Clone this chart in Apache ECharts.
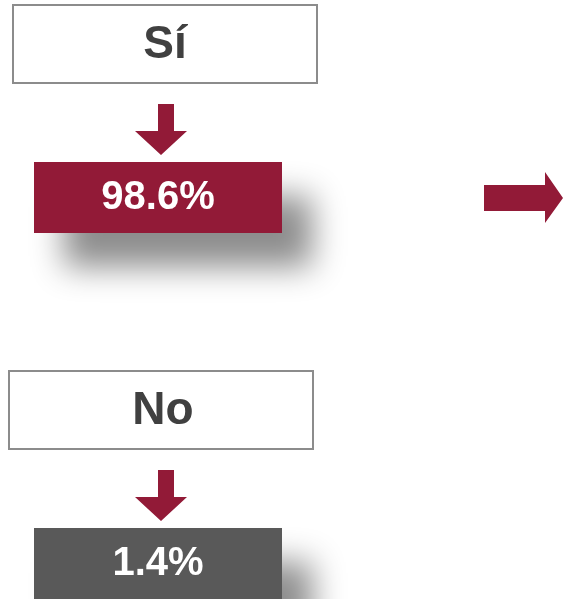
<!DOCTYPE html>
<html>
<head>
  <meta charset="utf-8">
  <script src="https://cdn.jsdelivr.net/npm/echarts@6.0.0/dist/echarts.min.js"></script>
  <style>
    body { margin: 0; padding: 0; background: #fff; }
    #main { width: 563px; height: 599px; }
  </style>
</head>
<body>
<div id="main"></div>
<script>
  // answers and their shares (%)
  var answers = ['Sí', 'No'];
  var shares = [98.6, 1.4];
  var boxColors = ['#921a37', '#595959'];

  var RED = '#921a37';
  var chart = echarts.init(document.getElementById('main'), null, { renderer: 'canvas' });

  var rowTop = [5, 371];
  var elements = [];

  answers.forEach(function (name, i) {
    var y0 = rowTop[i];
    var xShift = i === 0 ? 0 : -4;
    // label box
    elements.push({
      type: 'rect',
      shape: { x: 13 + xShift, y: y0, width: 304, height: 78 },
      style: { fill: '#fff', stroke: '#8c8c8c', lineWidth: 2 }
    });
    elements.push({
      type: 'text',
      x: 165 + xShift / 2, y: y0 + 40,
      style: {
        text: name, fill: '#404040', font: 'bold 46px "Liberation Sans", Arial, sans-serif',
        align: 'center', verticalAlign: 'middle'
      }
    });
    // down arrow
    var ay = y0 + 99;
    elements.push({
      type: 'polygon',
      shape: {
        points: [[158, ay], [174, ay], [174, ay + 27], [187, ay + 27], [161, ay + 51],
                 [135, ay + 27], [158, ay + 27]]
      },
      style: { fill: RED }
    });
    // value box with shadow
    var by = y0 + 157;
    elements.push({
      type: 'rect',
      shape: { x: 34, y: by, width: 248, height: 71 },
      style: {
        fill: boxColors[i],
        shadowBlur: 32, shadowOffsetX: 30, shadowOffsetY: 34,
        shadowColor: 'rgba(0,0,0,0.45)'
      }
    });
    elements.push({
      type: 'text',
      x: 158, y: by + 36,
      style: {
        text: shares[i].toFixed(1) + '%', fill: '#fff',
        font: 'bold 40px "Liberation Sans", Arial, sans-serif',
        align: 'center', verticalAlign: 'middle'
      }
    });
  });

  // right arrow
  elements.push({
    type: 'polygon',
    shape: {
      points: [[484, 185], [545, 185], [545, 172], [563, 198], [545, 223], [545, 211], [484, 211]]
    },
    style: { fill: RED }
  });

  chart.setOption({
    backgroundColor: '#fff',
    animation: false,
    graphic: { elements: elements }
  });
</script>
</body>
</html>
